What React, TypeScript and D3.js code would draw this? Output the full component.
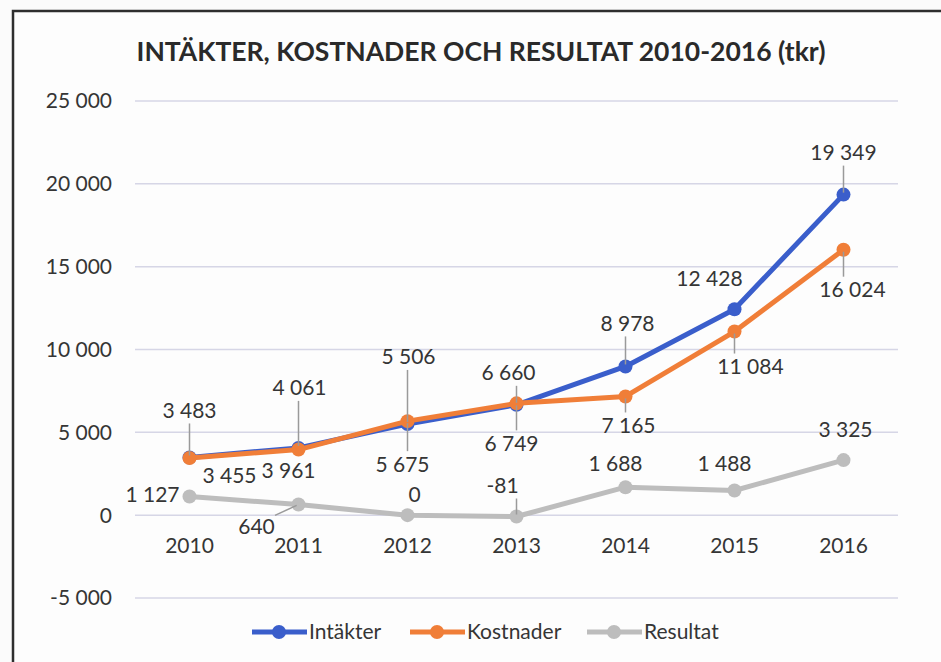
import React from "react";
import * as d3 from "d3";

const years = ["2010", "2011", "2012", "2013", "2014", "2015", "2016"];
const intakter = [3483, 4061, 5506, 6660, 8978, 12428, 19349];
const kostnader = [3455, 3961, 5675, 6749, 7165, 11084, 16024];
const resultat = [1127, 640, 0, -81, 1688, 1488, 3325];
const yTicks = [-5000, 0, 5000, 10000, 15000, 20000, 25000];
const title = "INTÄKTER, KOSTNADER OCH RESULTAT 2010-2016 (tkr)";

// label offsets (pixels, relative to the point) and leader-line flags
const intakterOffsets: [number, number][] = [[0, -47], [1, -60], [1, -67], [-8, -32], [2, -43], [-25, -31], [0, -42]];
const kostnaderOffsets: [number, number][] = [[40, 18], [-10, 21], [-5, 43], [-5, 40], [3, 29], [16, 35], [9, 40]];
const resultatOffsets: [number, number][] = [[-37, -2], [-42, 22], [7, -21], [-14, -31], [-10, -24], [-10, -27], [2, -30]];
const intakterLeaders = [true, true, true, true, true, false, true];
const kostnaderLeaders = [false, false, true, true, true, true, true];
const resultatLeaders = [false, true, false, true, false, false, false];

const W = 941;
const H = 662;
const FONT = "Lato, 'Open Sans', sans-serif";
const TEXT = "#353535";
const FS = 21;

const x = d3.scaleBand<string>().domain(years).range([135, 898]);
const y = d3.scaleLinear().domain([-5000, 25000]).range([598, 101]);
const fmt = (v: number) => d3.format(",")(v).replace(/,/g, " ").replace("\u2212", "-");

const series = [
  { name: "Intäkter", values: intakter, color: "#3a5ecb", offsets: intakterOffsets, leaders: intakterLeaders },
  { name: "Kostnader", values: kostnader, color: "#f07e38", offsets: kostnaderOffsets, leaders: kostnaderLeaders },
  { name: "Resultat", values: resultat, color: "#bdbdbd", offsets: resultatOffsets, leaders: resultatLeaders },
];

const cx = (i: number) => (x(years[i]) as number) + x.bandwidth() / 2;

function leader(px: number, py: number, lx: number, ly: number, text: string) {
  const w = text.length * 10.5;
  const h = 20;
  const bx = Math.max(lx - w / 2, Math.min(px, lx + w / 2));
  const by = Math.max(ly - h / 2, Math.min(py, ly + h / 2));
  const dx = px - bx;
  const dy = py - by;
  const len = Math.sqrt(dx * dx + dy * dy);
  if (len < 4) return null;
  return (
    <line
      x1={bx + (dx / len) * 3}
      y1={by + (dy / len) * 3}
      x2={px - (dx / len) * 2}
      y2={py - (dy / len) * 2}
      stroke="#9a9a9a"
      strokeWidth={1.5}
    />
  );
}

export default function App() {
  const line = d3
    .line<number>()
    .x((_, i) => cx(i))
    .y((d) => y(d));

  const legendItems = [
    { s: series[0], x0: 252, tx: 309 },
    { s: series[1], x0: 410, tx: 467 },
    { s: series[2], x0: 587, tx: 644 },
  ];
  const LY = 632;

  return (
    <svg
      width={W}
      height={H}
      style={{ position: "absolute", left: 0, top: 0, background: "#fbfbfb" }}
      fontFamily={FONT}
    >
      <rect x={13} y={11} width={W + 20} height={H} fill="#fdfdfd" stroke="#2e2e2e" strokeWidth={2.5} />
      <text x={481} y={61} textAnchor="middle" fontSize={26.5} fontWeight="bold" fill="#2a2a2a">
        {title}
      </text>
      {yTicks.map((t) => (
        <g key={t}>
          <line x1={135} x2={898} y1={y(t)} y2={y(t)} stroke="#d6d6e6" strokeWidth={1.5} />
          <text x={112} y={y(t)} dy="0.35em" textAnchor="end" fontSize={FS} fill={TEXT}>
            {fmt(t)}
          </text>
        </g>
      ))}
      {years.map((yr, i) => (
        <text key={yr} x={cx(i)} y={y(0) + 30} dy="0.35em" textAnchor="middle" fontSize={FS} fill={TEXT}>
          {yr}
        </text>
      ))}
      {series.map((s) => (
        <g key={s.name}>
          <path d={line(s.values) || ""} fill="none" stroke={s.color} strokeWidth={5} strokeLinejoin="round" />
          {s.values.map((v, i) => (
            <circle key={i} cx={cx(i)} cy={y(v)} r={7} fill={s.color} />
          ))}
        </g>
      ))}
      {series.map((s) => (
        <g key={s.name + "-labels"}>
          {s.values.map((v, i) => {
            const px = cx(i);
            const py = y(v);
            const lx = px + s.offsets[i][0];
            const ly = py + s.offsets[i][1];
            const txt = fmt(v);
            return (
              <g key={i}>
                {s.leaders[i] ? leader(px, py, lx, ly, txt) : null}
                <text x={lx} y={ly} dy="0.35em" textAnchor="middle" fontSize={FS} fill={TEXT}>
                  {txt}
                </text>
              </g>
            );
          })}
        </g>
      ))}
      {legendItems.map(({ s, x0, tx }) => (
        <g key={s.name + "-legend"}>
          <line x1={x0} x2={x0 + 55} y1={LY} y2={LY} stroke={s.color} strokeWidth={5} />
          <circle cx={x0 + 27} cy={LY} r={7} fill={s.color} />
          <text x={tx} y={LY} dy="0.35em" fontSize={FS} fill={TEXT}>
            {s.name}
          </text>
        </g>
      ))}
    </svg>
  );
}
